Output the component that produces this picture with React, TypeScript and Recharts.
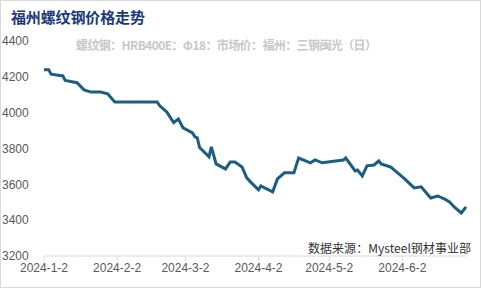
import React from 'react';
import { LineChart, Line, XAxis, YAxis } from 'recharts';

const dates = [
  '2024-01-02', '2024-01-04', '2024-01-05', '2024-01-10', '2024-01-11', '2024-01-16',
  '2024-01-19', '2024-01-22', '2024-01-26', '2024-01-29', '2024-02-01', '2024-02-19',
  '2024-02-20', '2024-02-23', '2024-02-26', '2024-02-28', '2024-03-01', '2024-03-05',
  '2024-03-06', '2024-03-07', '2024-03-08', '2024-03-12', '2024-03-13', '2024-03-15',
  '2024-03-19', '2024-03-21', '2024-03-23', '2024-03-26', '2024-03-28', '2024-03-30',
  '2024-04-02', '2024-04-03', '2024-04-08', '2024-04-10', '2024-04-13', '2024-04-17',
  '2024-04-19', '2024-04-24', '2024-04-26', '2024-04-29', '2024-05-08', '2024-05-09',
  '2024-05-13', '2024-05-14', '2024-05-16', '2024-05-18', '2024-05-21', '2024-05-23',
  '2024-05-24', '2024-05-28', '2024-05-31', '2024-06-03', '2024-06-07', '2024-06-10',
  '2024-06-14', '2024-06-17', '2024-06-20', '2024-06-22', '2024-06-24', '2024-06-27',
  '2024-06-29',
];

const prices = [
  4240, 4240, 4215, 4205, 4180, 4167,
  4127, 4115, 4115, 4105, 4060, 4060,
  4040, 4005, 3945, 3965, 3915, 3887,
  3865, 3860, 3805, 3753, 3809, 3714,
  3686, 3725, 3725, 3697, 3636, 3608,
  3569, 3591, 3558, 3630, 3664, 3664,
  3747, 3720, 3736, 3720, 3736, 3747,
  3675, 3680, 3647, 3703, 3708, 3731,
  3714, 3697, 3664, 3630, 3580, 3586,
  3524, 3535, 3518, 3502, 3474, 3440,
  3474,
];

const tickDates = ['2024-01-02', '2024-02-02', '2024-03-02', '2024-04-02', '2024-05-02', '2024-06-02'];
const yTicks = [3200, 3400, 3600, 3800, 4000, 4200, 4400];

const title = '福州螺纹钢价格走势';
const subtitle = '螺纹钢：HRB400E：Φ18：市场价：福州：三钢闽光（日）';
const source = '数据来源：Mysteel钢材事业部';

const DAY = 24 * 3600 * 1000;
const start = Date.UTC(2024, 0, 2);
const toDay = (s: string) => {
  const [y, m, d] = s.split('-').map(Number);
  return Math.round((Date.UTC(y, m - 1, d) - start) / DAY);
};
const fmtDay = (n: number) => {
  const dt = new Date(start + n * DAY);
  return `${dt.getUTCFullYear()}-${dt.getUTCMonth() + 1}-${dt.getUTCDate()}`;
};

const data = dates.map((d, i) => ({ day: toDay(d), price: prices[i] }));
const xTicks = tickDates.map(toDay);

export default function App() {
  return (
    <div
      style={{
        position: 'absolute',
        left: 0,
        top: 0,
        width: 481,
        height: 288,
        background: '#fff',
        boxSizing: 'border-box',
        border: '1px solid #d9d9d9',
        overflow: 'hidden',
      }}
    >
      <div style={{ position: 'absolute', left: -1, top: -1 }}>
        <LineChart width={481} height={288} data={data} margin={{ top: 41, right: 15, left: 0, bottom: 0 }}>
          <XAxis
            dataKey="day"
            type="number"
            domain={[0, 178]}
            ticks={xTicks}
            tickFormatter={fmtDay}
            height={32}
            stroke="#d9d9d9"
            tickSize={5}
            tick={{ fill: '#595959', fontSize: 12, fontFamily: 'Liberation Sans, Arial' }}
            interval={0}
          />
          <YAxis
            type="number"
            domain={[3200, 4400]}
            ticks={yTicks}
            width={44}
            axisLine={false}
            tickLine={false}
            tick={{ fill: '#595959', fontSize: 12, fontFamily: 'Liberation Sans, Arial', textAnchor: 'start' }}
            dx={-34}
            interval={0}
          />
          <Line
            type="linear"
            dataKey="price"
            stroke="#1b5e82"
            strokeWidth={3}
            dot={false}
            isAnimationActive={false}
          />
        </LineChart>
      </div>
      <svg
        width={481}
        height={288}
        style={{ position: 'absolute', left: -1, top: -1, pointerEvents: 'none' }}
      >
        <text
          x={11}
          y={23}
          fontSize={15}
          fontWeight="bold"
          fill="#1a3a7c"
          fontFamily="Noto Sans CJK SC"
          textLength={134}
        >
          {title}
        </text>
        <text
          x={76}
          y={50}
          fontSize={12}
          fontWeight="bold"
          fill="#c8c8c8"
          fontFamily="Noto Sans CJK SC"
          textLength={301}
        >
          {subtitle}
        </text>
        <text
          x={308}
          y={253}
          fontSize={12}
          fill="#333"
          fontFamily="Noto Sans CJK SC"
          textLength={163}
        >
          {source}
        </text>
      </svg>
    </div>
  );
}
